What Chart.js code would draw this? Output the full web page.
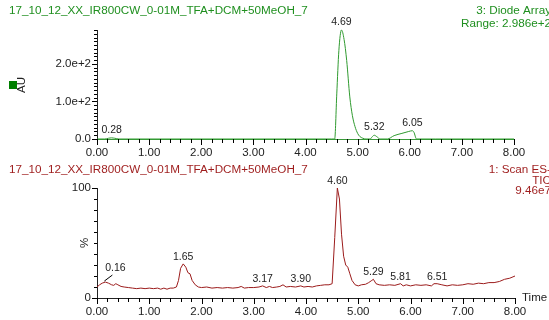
<!DOCTYPE html>
<html>
<head>
<meta charset="utf-8">
<script src="https://cdn.jsdelivr.net/npm/chart.js@4/dist/chart.umd.min.js"></script>
<style>
  html, body { margin: 0; padding: 0; background: #fff; }
  #wrap { position: relative; width: 549px; height: 320px; overflow: hidden; }
  canvas { position: absolute; left: 0; }
  #uvChart { top: 0; }
  #msChart { top: 160px; }
</style>
</head>
<body>
<div id="wrap">
  <canvas id="uvChart" width="549" height="160"></canvas>
  <canvas id="msChart" width="549" height="160"></canvas>
</div>
<script>
const sampleName = "17_10_12_XX_IR800CW_0-01M_TFA+DCM+50MeOH_7";

// diode array trace (time in min, AU)
const uvTimes  = [0.00, 0.15, 0.22, 0.28, 0.34, 0.42, 0.60, 4.50, 4.56, 4.60, 4.64, 4.69, 4.74, 4.79, 4.85, 4.90, 4.95, 5.00, 5.04, 5.10, 5.16,
                  5.24, 5.28, 5.32, 5.37, 5.43, 5.57, 5.70, 5.85, 5.98, 6.05, 6.08, 6.13, 6.50, 8.00];
const uvValues = [0, 0, 2, 3, 2, 0, 0, 0, 0, 120, 235, 290, 265, 209, 112, 62, 33, 15, 7, 2, 0,
                  0, 6, 10, 6, 0, 0, 9, 15, 20, 22, 18, 0, 0, 0];
const uvPeaks = [0.28, 4.69, 5.32, 6.05];
const uvMajorY = [0, 100, 200];

// TIC trace (time in min, %)
const msTimes  = [0.00, 0.05, 0.10, 0.16, 0.22, 0.28, 0.32, 0.36, 0.40, 0.46, 0.52, 0.60, 0.68, 0.76, 0.84, 0.92, 1.00, 1.08, 1.16, 1.22,
                  1.28, 1.34, 1.40, 1.46, 1.52, 1.56, 1.60, 1.65, 1.70, 1.74, 1.78, 1.82, 1.88, 1.94, 2.00, 2.10, 2.20, 2.30, 2.40, 2.50,
                  2.60, 2.70, 2.76, 2.82, 2.90, 3.00, 3.10, 3.17, 3.24, 3.30, 3.36, 3.44, 3.50, 3.56, 3.62, 3.70, 3.80, 3.90, 3.96, 4.04,
                  4.12, 4.20, 4.28, 4.36, 4.44, 4.50, 4.55, 4.60, 4.64, 4.68, 4.72, 4.76, 4.80, 4.84, 4.88, 4.94, 5.00, 5.06, 5.14, 5.20,
                  5.26, 5.29, 5.34, 5.40, 5.50, 5.60, 5.70, 5.81, 5.86, 5.92, 6.00, 6.10, 6.20, 6.30, 6.40, 6.45, 6.51, 6.60, 6.70, 6.80,
                  6.90, 7.00, 7.10, 7.20, 7.30, 7.40, 7.50, 7.60, 7.70, 7.80, 7.90, 8.00];
const msValues = [10, 12, 13.5, 14.5, 13.5, 12, 11.5, 13, 12, 10.5, 10, 9.5, 9, 8.5, 9, 8.5, 9, 8.5, 9, 8,
                  9, 8, 9, 9, 10, 16, 27, 31, 28, 23, 22, 16, 12, 10, 9.5, 10, 9, 9.5, 9, 9.5,
                  9, 9.5, 10.5, 9, 9.5, 9.5, 10, 11, 9.5, 10.5, 9.5, 10, 10.5, 12, 10, 10.5, 10, 11, 10, 10.5,
                  10, 11, 11.5, 12, 12, 13, 55, 100, 90, 58, 38, 30, 28, 22, 16, 12, 11, 12, 12.5, 14,
                  16, 17, 13, 12, 11.5, 12, 11.5, 13, 11, 12, 11, 12, 11.5, 12, 11, 13, 13, 12, 11, 12,
                  11.5, 12, 13, 12.5, 13.5, 13, 14, 14, 15, 17, 18, 20];
const msPeaks = [0.16, 1.65, 3.17, 3.90, 4.60, 5.29, 5.81, 6.51];
const msMajorY = [0, 100];

const FONT = '"Liberation Sans", Arial, sans-serif';
const GREEN = '#1f8f1f';
const RED = '#9e1c1c';
const INK = '#222';

function valueAt(times, values, t) {
  for (let i = 1; i < times.length; i++) {
    if (t <= times[i]) {
      const f = (t - times[i - 1]) / (times[i] - times[i - 1]);
      return values[i - 1] + f * (values[i] - values[i - 1]);
    }
  }
  return values[values.length - 1];
}

function isWhole(v) { return Math.abs(v - Math.round(v)) < 1e-6; }

// extra drawing per panel: tick marks, peak labels, header, axis titles
function panelPlugin(p) {
  return {
    id: 'panel_' + p.name,
    afterDraw(chart) {
      const ctx = chart.ctx;
      const xs = chart.scales.x, ys = chart.scales.y;
      const area = chart.chartArea;
      ctx.save();
      ctx.strokeStyle = '#000';
      ctx.lineWidth = 1;

      // time axis: minor marks every 0.2 min, longer on whole minutes
      const axisY = Math.round(area.bottom);
      for (let k = 0; k <= 40; k++) {
        const v = k * 0.2;
        const px = Math.round(xs.getPixelForValue(v));
        const len = isWhole(v) ? 6 : 4;
        ctx.fillStyle = '#000';
        ctx.fillRect(px, axisY, 1, len);
      }

      ctx.beginPath();
      const ny = Math.floor(ys.max / 10 + 1e-6);
      for (let k = 0; k <= ny; k++) {
        const v = k * 10;
        const py = Math.round(ys.getPixelForValue(v)) + 0.5;
        const len = p.majorY.indexOf(v) >= 0 ? 5 : 3;
        ctx.moveTo(area.left - len, py);
        ctx.lineTo(area.left, py);
      }
      ctx.stroke();

      // peak labels
      ctx.fillStyle = INK;
      ctx.font = '10.5px ' + FONT;
      ctx.textAlign = 'center';
      ctx.textBaseline = 'middle';
      p.peaks.forEach(t => {
        const px = xs.getPixelForValue(t);
        const py = ys.getPixelForValue(valueAt(p.times, p.values, t));
        if (p.leader.indexOf(t) >= 0) {
          ctx.beginPath();
          ctx.moveTo(px - 1, py - 1);
          ctx.lineTo(px + 7, py - 7);
          ctx.stroke();
          ctx.fillText(t.toFixed(2), px + 10, py - 14);
        } else {
          ctx.fillText(t.toFixed(2), px, py - p.labelGap);
        }
      });

      // header texts
      ctx.font = '11.7px ' + FONT;
      ctx.fillStyle = p.color;
      ctx.textAlign = 'left';
      ctx.fillText(sampleName, 9, p.headerY);
      ctx.textAlign = 'right';
      p.rightLines.forEach((s, i) => ctx.fillText(s, 551, p.rightY[i]));

      // axis titles
      ctx.fillStyle = INK;
      ctx.font = '11.5px ' + FONT;
      ctx.save();
      ctx.translate(p.yTitle.x, p.yTitle.y);
      ctx.rotate(-Math.PI / 2);
      ctx.textAlign = 'center';
      ctx.fillText(p.yTitle.text, 0, 0);
      ctx.restore();
      if (p.marker) {
        ctx.fillStyle = p.marker.color;
        ctx.fillRect(p.marker.x, p.marker.y, 8, 8);
      }
      if (p.xTitle) {
        ctx.fillStyle = INK;
        ctx.textAlign = 'left';
        ctx.fillText(p.xTitle, area.right + 7, axisY);
      }
      ctx.restore();
    }
  };
}

function makeChart(id, cfg) {
  return new Chart(document.getElementById(id), {
    type: 'line',
    data: {
      datasets: [{
        data: cfg.times.map((t, i) => ({ x: t, y: cfg.values[i] })),
        borderColor: cfg.lineColor,
        borderWidth: 1,
        pointRadius: 0,
        fill: false,
        clip: false,
        cubicInterpolationMode: cfg.smooth ? 'monotone' : 'default',
        tension: 0
      }]
    },
    options: {
      responsive: false,
      animation: false,
      events: [],
      layout: { padding: cfg.padding },
      plugins: {
        legend: { display: false },
        tooltip: { enabled: false }
      },
      scales: {
        x: {
          type: 'linear',
          min: 0, max: 8,
          grid: { display: false, drawTicks: false },
          border: { display: true, color: cfg.xAxisColor, width: 1 },
          ticks: {
            stepSize: 0.2,
            autoSkip: false,
            maxRotation: 0,
            padding: 7,
            color: INK,
            font: { family: FONT, size: 11.5 },
            callback: v => isWhole(v) ? Number(v).toFixed(2) : ''
          },
          afterFit: s => { s.height = cfg.xHeight; s.paddingLeft = 0; s.paddingRight = 0; }
        },
        y: {
          min: 0, max: cfg.yMax,
          grid: { display: false, drawTicks: false },
          border: { display: true, color: INK, width: 1 },
          ticks: {
            stepSize: 10,
            autoSkip: false,
            padding: 6,
            color: INK,
            font: { family: FONT, size: 11.5 },
            callback: cfg.yLabel
          },
          afterFit: s => { s.width = 97; s.paddingTop = 0; s.paddingBottom = 0; }
        }
      }
    },
    plugins: [panelPlugin(cfg.panel)]
  });
}

makeChart('uvChart', {
  times: uvTimes, values: uvValues, lineColor: '#2f9a2f', smooth: true, xAxisColor: '#3a9a3a',
  padding: { top: 30, right: 35, bottom: 0, left: 0 },
  xHeight: 21, yMax: 290,
  yLabel: v => v === 0 ? '0.0' : (v % 100 === 0 ? (v / 100).toFixed(1) + 'e+2' : ''),
  panel: {
    name: 'uv', times: uvTimes, values: uvValues, peaks: uvPeaks, leader: [], labelGap: 8,
    majorY: uvMajorY,
    color: GREEN, headerY: 11,
    rightLines: ['3: Diode Array', 'Range: 2.986e+2'], rightY: [11, 24],
    yTitle: { text: 'AU', x: 22, y: 85 },
    marker: { x: 9, y: 81, color: '#007f00' }
  }
});

makeChart('msChart', {
  times: msTimes, values: msValues, lineColor: '#9b1b1b', smooth: false, xAxisColor: INK,
  padding: { top: 28, right: 34, bottom: 0, left: 0 },
  xHeight: 22, yMax: 100,
  yLabel: v => (v === 0 || v === 100) ? String(v) : '',
  panel: {
    name: 'ms', times: msTimes, values: msValues, peaks: msPeaks, leader: [0.16], labelGap: 7,
    majorY: msMajorY,
    color: RED, headerY: 9.5,
    rightLines: ['1: Scan ES-', 'TIC', '9.46e7'], rightY: [9.5, 20.5, 30.5],
    yTitle: { text: '%', x: 85, y: 83 },
    xTitle: 'Time'
  }
});
</script>
</body>
</html>
